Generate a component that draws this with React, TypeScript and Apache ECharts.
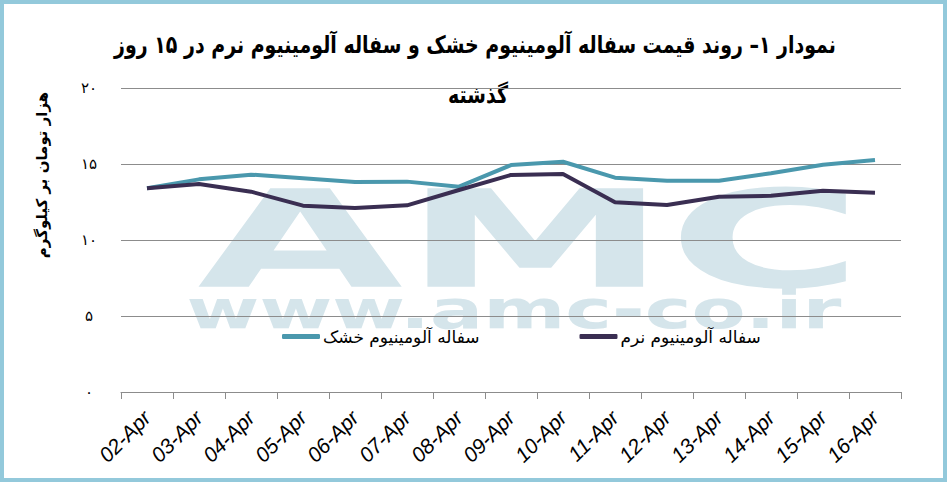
import React, { useEffect, useRef } from "react";
import * as echarts from "echarts";

const categories = ["02-Apr","03-Apr","04-Apr","05-Apr","06-Apr","07-Apr","08-Apr","09-Apr","10-Apr","11-Apr","12-Apr","13-Apr","14-Apr","15-Apr","16-Apr"];
const dryName = "سفاله آلومینیوم خشک";
const softName = "سفاله آلومینیوم نرم";
const dryValues = [13.40, 13.99, 14.30, 14.06, 13.82, 13.84, 13.51, 14.93, 15.15, 14.10, 13.90, 13.90, 14.39, 14.95, 15.26];
const softValues = [13.40, 13.68, 13.18, 12.26, 12.11, 12.28, 13.29, 14.28, 14.34, 12.48, 12.30, 12.85, 12.91, 13.24, 13.11];
const titleLine1 = "نمودار ۱– روند قیمت سفاله آلومینیوم خشک و سفاله آلومینیوم نرم در ۱۵ روز";
const titleLine2 = "گذشته";
const yAxisName = "هزار تومان بر کیلوگرم";

const FA_DIGITS = "۰۱۲۳۴۵۶۷۸۹";
const toFa = (v: number) => String(v).replace(/\d/g, (d) => FA_DIGITS[Number(d)]);

const FA_FONT = "'DejaVu Sans', 'Noto Sans', sans-serif";

export default function App() {
  const ref = useRef<HTMLDivElement>(null);
  useEffect(() => {
    const chart = echarts.init(ref.current!, undefined, { renderer: "svg" });
    chart.setOption({
      animation: false,
      backgroundColor: "#ffffff",
      graphic: [
        {
          type: "text",
          x: 530,
          y: 240,
          scaleX: 1.97,
          z: -10,
          style: {
            text: "AMC",
            font: "bold 135px 'DejaVu Sans'",
            fill: "#d5e5eb",
            textAlign: "center",
            textVerticalAlign: "middle",
          },
        },
        {
          type: "text",
          x: 514,
          y: 309,
          scaleX: 1.46,
          z: -10,
          style: {
            text: "www.amc-co.ir",
            font: "bold 54px 'DejaVu Sans'",
            fill: "#d5e5eb",
            textAlign: "center",
            textVerticalAlign: "middle",
          },
        },
        {
          type: "text",
          x: 475,
          y: 45,
          scaleX: 0.79,
          style: {
            text: titleLine1,
            font: "bold 24px " + FA_FONT,
            fill: "#000",
            textAlign: "center",
            textVerticalAlign: "middle",
          },
        },
        {
          type: "text",
          x: 478,
          y: 95,
          scaleX: 0.79,
          style: {
            text: titleLine2,
            font: "bold 24px " + FA_FONT,
            fill: "#000",
            textAlign: "center",
            textVerticalAlign: "middle",
          },
        },
        {
          type: "text",
          x: 42,
          y: 175,
          rotation: Math.PI / 2,
          style: {
            text: yAxisName,
            font: "bold 15px " + FA_FONT,
            fill: "#000",
            textAlign: "center",
            textVerticalAlign: "middle",
          },
        },
        {
          type: "rect",
          z: 100,
          shape: { x: 2, y: 2, width: 943, height: 478 },
          style: { fill: "none", stroke: "#93c9db", lineWidth: 4 },
        },
      ],
      legend: {
        left: 277,
        top: 323,
        itemGap: 100,
        itemWidth: 38,
        itemHeight: 5,
        icon: "roundRect",
        textStyle: { fontFamily: FA_FONT, fontSize: 17, color: "#000", padding: [0, 0, 0, -2] },
        data: [dryName, softName],
      },
      grid: { left: 121, right: 46, top: 88, bottom: 90 },
      xAxis: {
        type: "category",
        data: categories,
        boundaryGap: true,
        axisLine: { lineStyle: { color: "#8c8c8c", width: 1 } },
        axisTick: { show: true, length: 7, lineStyle: { color: "#8c8c8c" } },
        axisLabel: {
          rotate: 45,
          interval: 0,
          margin: 22,
          fontStyle: "italic",
          fontFamily: "'Liberation Sans', sans-serif",
          fontSize: 21,
          color: "#000",
        },
      },
      yAxis: {
        type: "value",
        min: 0,
        max: 20,
        interval: 5,
        axisLine: { show: false },
        axisTick: { show: false },
        splitLine: { lineStyle: { color: "#8c8c8c", width: 1 } },
        axisLabel: {
          formatter: (v: number) => toFa(v),
          align: "center",
          margin: 32,
          fontFamily: FA_FONT,
          fontSize: 15,
          color: "#000",
        },
      },
      series: [
        {
          name: dryName,
          type: "line",
          data: dryValues,
          symbol: "none",
          lineStyle: { color: "#4a98ad", width: 4 },
          itemStyle: { color: "#4a98ad" },
        },
        {
          name: softName,
          type: "line",
          data: softValues,
          symbol: "none",
          lineStyle: { color: "#3a2e52", width: 4 },
          itemStyle: { color: "#3a2e52" },
        },
      ],
    });
    return () => chart.dispose();
  }, []);
  return (
    <div
      ref={ref}
      style={{ position: "fixed", left: 0, top: 0, width: 947, height: 482 }}
    />
  );
}
